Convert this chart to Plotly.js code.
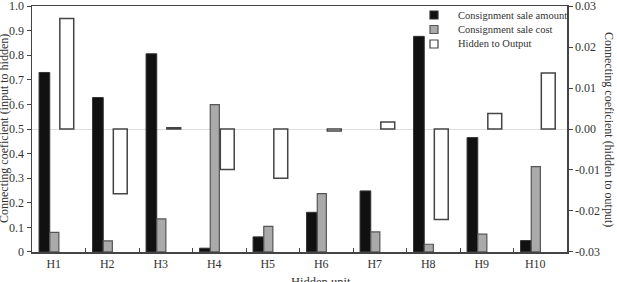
<!DOCTYPE html>
<html><head><meta charset="utf-8">
<script src="https://cdn.plot.ly/plotly-3.0.1.min.js"></script>
<style>html,body{margin:0;padding:0;background:#fff}#c{width:617px;height:282px}</style>
</head><body><div id="c"></div>
<script>
const categories = ["H1","H2","H3","H4","H5","H6","H7","H8","H9","H10"];
const saleAmount = [0.73, 0.628, 0.806, 0.015, 0.061, 0.161, 0.248, 0.877, 0.465, 0.046];
const saleCost   = [0.079, 0.045, 0.134, 0.599, 0.104, 0.237, 0.081, 0.031, 0.072, 0.347];
const hiddenToOutput = [0.027, -0.0158, 0.0003, -0.0099, -0.012, -0.0005, 0.0017, -0.0221, 0.0038, 0.0137];
const seriesNames = ["Consignment sale amount", "Consignment sale cost", "Hidden to Output"];
const leftTicks = [0,0.1,0.2,0.3,0.4,0.5,0.6,0.7,0.8,0.9,1.0];
const leftTickText = ["0","0.1","0.2","0.3","0.4","0.5","0.6","0.7","0.8","0.9","1.0"];
const rightTicks = [-0.03,-0.02,-0.01,0,0.01,0.02,0.03];
const rightTickText = ["-0.03","-0.02","-0.01","0.00","0.01","0.02","0.03"];

const FAM = "Liberation Serif";
const fill = ["#111", "#aaa", "#fff"];
const edge = ["#333", "#555", "#444"];

const traces = [
  {type:"bar", name:seriesNames[0], x:categories, y:saleAmount,
   offset:-0.368, width:0.2, marker:{color:fill[0], line:{color:edge[0], width:1}}},
  {type:"bar", name:seriesNames[1], x:categories, y:saleCost,
   offset:-0.168, width:0.17, marker:{color:fill[1], line:{color:edge[1], width:1.2}}},
  {type:"bar", name:seriesNames[2], x:categories, y:hiddenToOutput, yaxis:"y2",
   offset:0.02, width:0.26, marker:{color:fill[2], line:{color:edge[2], width:1.5}}}
];

const PH = 246;
const shapes = [];
const annotations = [];
const legX0 = 430, legTextX = 456, legY = [15, 29.5, 44];
seriesNames.forEach((n, i) => {
  shapes.push({type:"rect", xref:"paper", yref:"paper",
    x0:(legX0-32)/535, x1:(legX0+8-32)/535,
    y0:(252-legY[i]-4)/PH, y1:(252-legY[i]+4)/PH,
    fillcolor:fill[i], line:{color:edge[i], width:1.2}});
  annotations.push({text:n, xref:"paper", yref:"paper", x:(legTextX-32)/535, y:(252-legY[i])/PH,
    xanchor:"left", yanchor:"middle", showarrow:false,
    font:{family:FAM, size:10.5, color:"#333"}});
});
annotations.push(
  {text:"Connecting coeficient (input to hidden)", xref:"paper", yref:"paper", x:0, y:0.5,
   xanchor:"center", yanchor:"middle", xshift:-28, textangle:-90, showarrow:false,
   font:{family:FAM, size:12, color:"#333"}},
  {text:"Connecting coeficient (hidden to output)", xref:"paper", yref:"paper", x:1, y:0.5,
   xanchor:"center", yanchor:"middle", xshift:42, textangle:90, showarrow:false,
   font:{family:FAM, size:12, color:"#333"}},
  {text:"Hidden unit", xref:"paper", yref:"paper", x:0.54, y:0,
   xanchor:"center", yanchor:"top", yshift:-21, showarrow:false,
   font:{family:FAM, size:12.5, color:"#333"}}
);

const layout = {
  width:617, height:282,
  margin:{l:32, r:50, t:6, b:30},
  paper_bgcolor:"#fff", plot_bgcolor:"#fff",
  font:{family:FAM, size:12, color:"#333"},
  barmode:"overlay",
  showlegend:false,
  xaxis:{type:"category", range:[-0.5,9.5], showline:true, linecolor:"#444", linewidth:1.5,
         mirror:true, ticks:"inside", tickson:"boundaries", ticklen:4, tickcolor:"#444",
         ticklabelshift:-5, showgrid:false, zeroline:false,
         tickfont:{family:FAM, size:12, color:"#333"}},
  yaxis:{range:[-0.0005,1.0005], tickvals:leftTicks, ticktext:leftTickText, showline:true,
         linecolor:"#444", linewidth:1.5, ticks:"outside", ticklen:4, tickcolor:"#444",
         ticklabeloverflow:"allow",
         showgrid:false, zeroline:false, tickfont:{family:FAM, size:12, color:"#333"}},
  yaxis2:{overlaying:"y", side:"right", range:[-0.03003,0.03003], tickvals:rightTicks, ticktext:rightTickText,
          showline:true, linecolor:"#444", linewidth:1.5, ticks:"outside", ticklen:4, tickcolor:"#444",
          ticklabeloverflow:"allow",
          showgrid:false, zeroline:true, zerolinecolor:"#ddd", zerolinewidth:1,
          tickfont:{family:FAM, size:12, color:"#333"}},
  shapes:shapes,
  annotations:annotations
};
Plotly.newPlot("c", traces, layout, {staticPlot:true, displayModeBar:false});
</script></body></html>
